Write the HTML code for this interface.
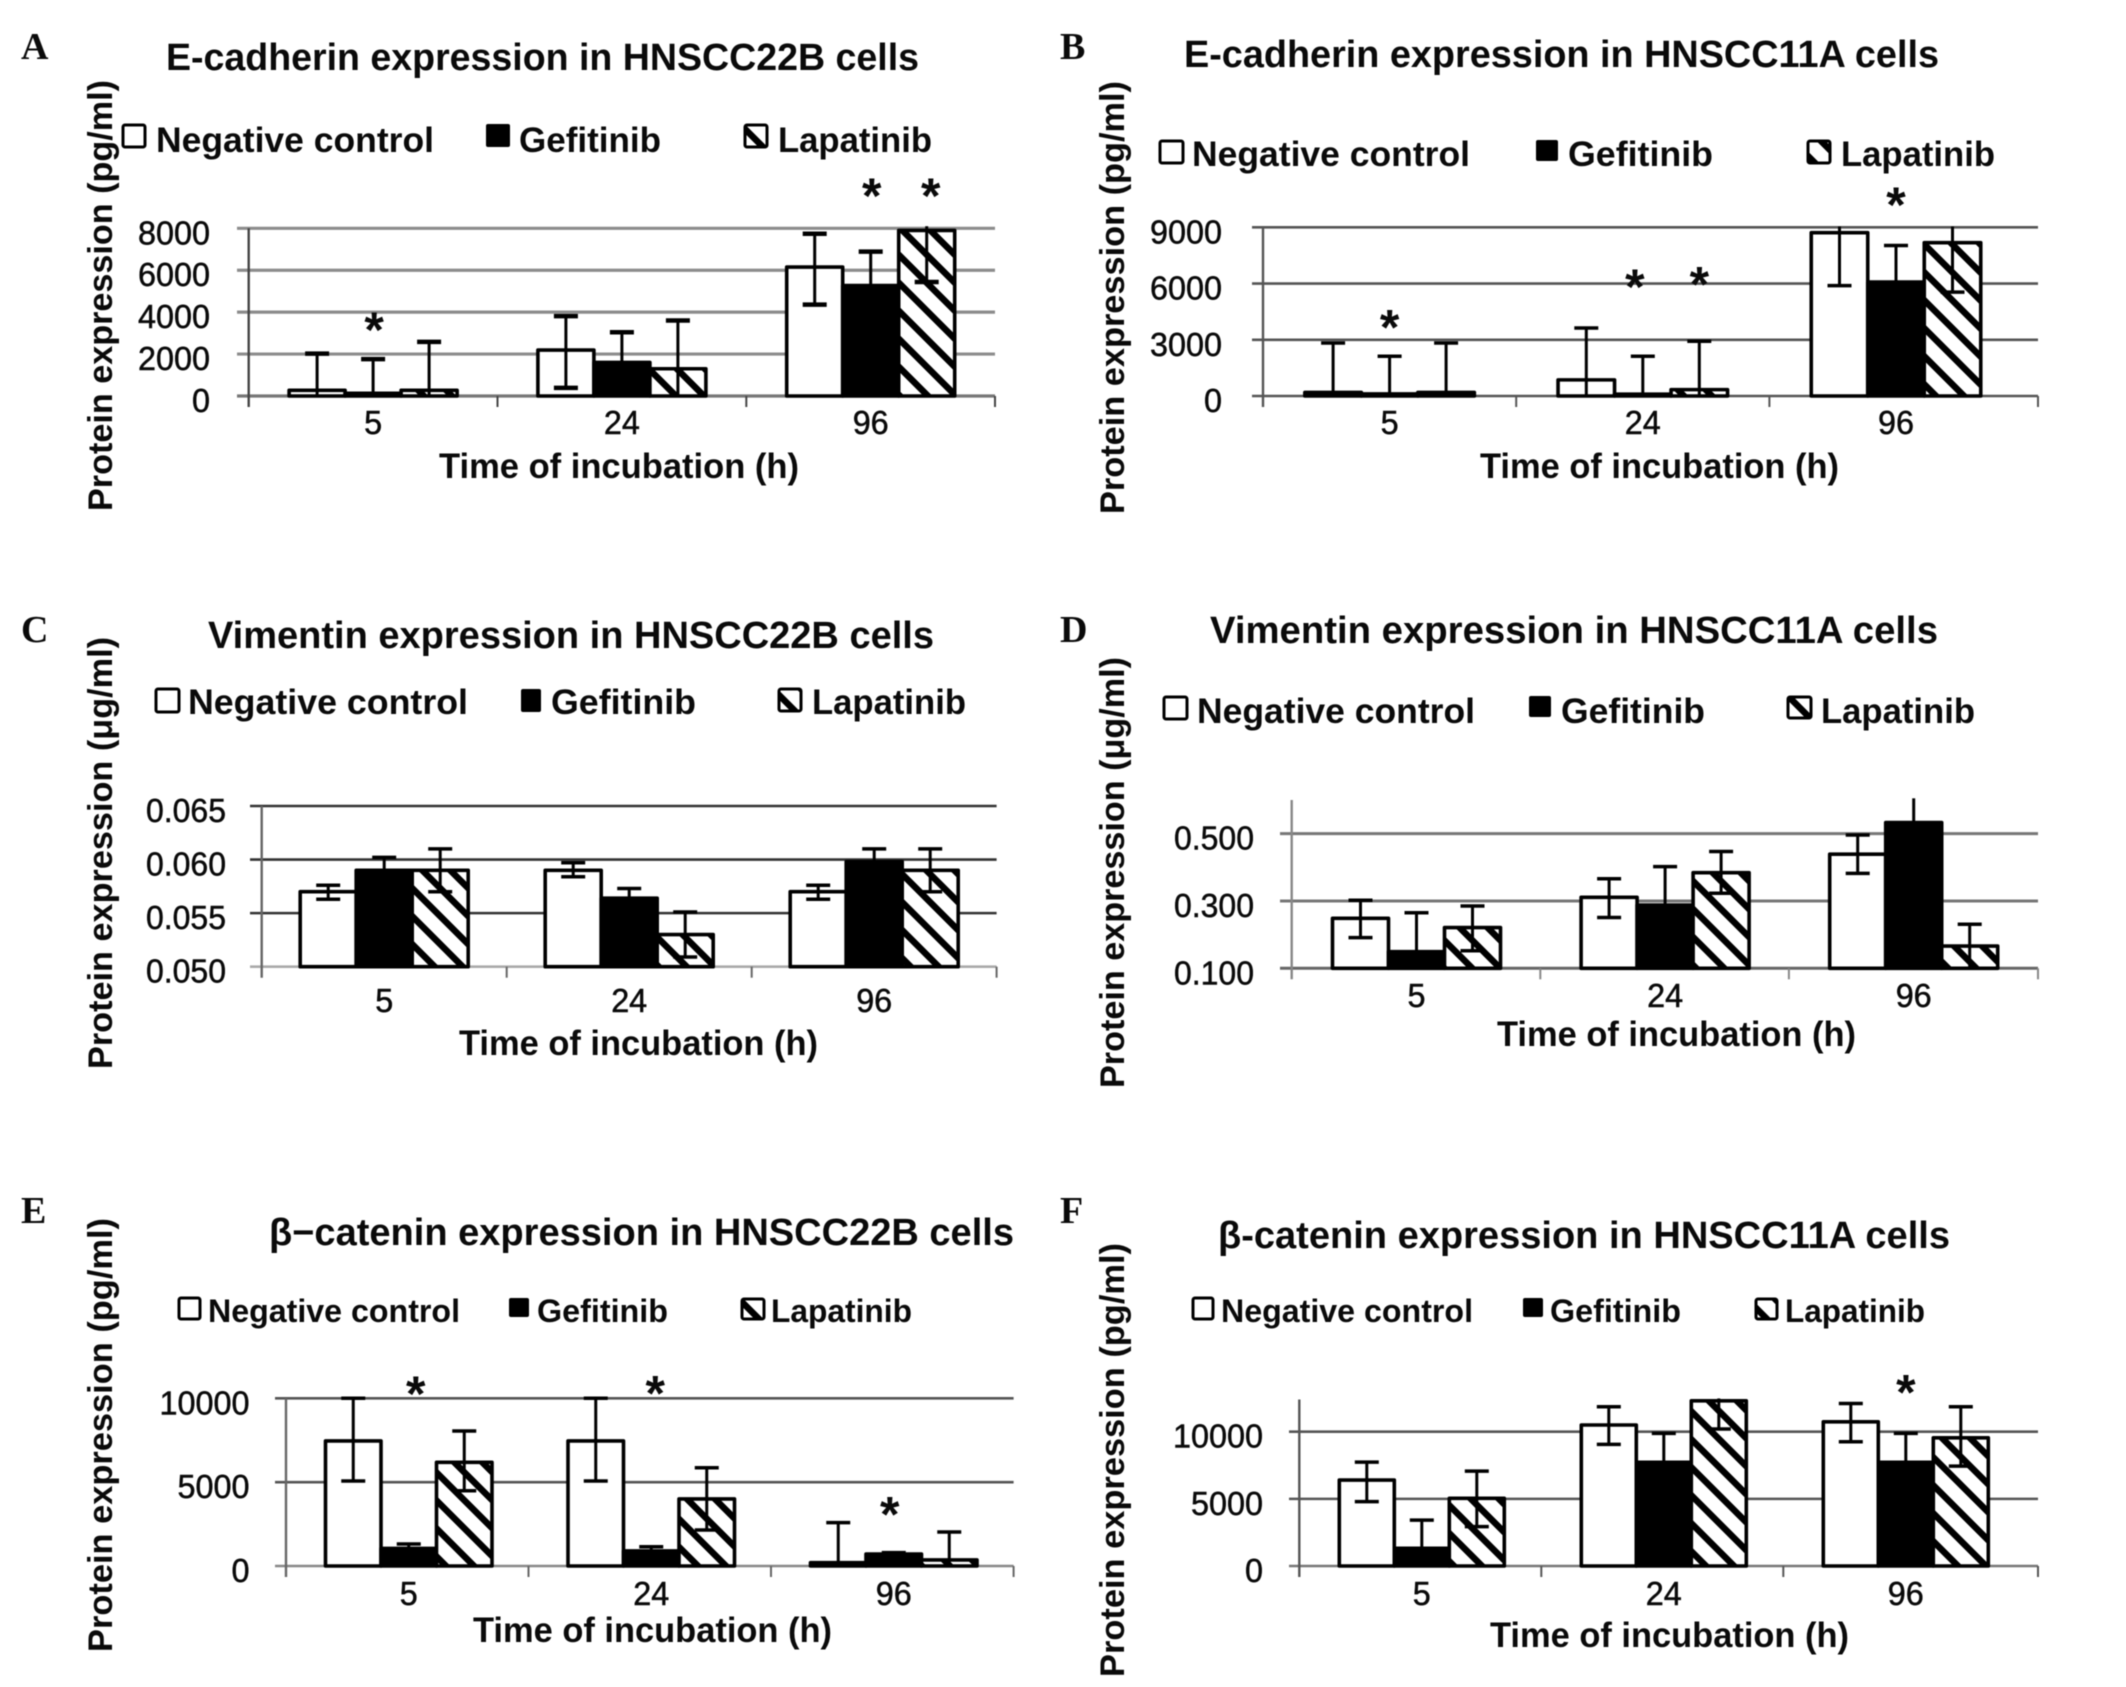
<!DOCTYPE html>
<html lang="en">
<head>
<meta charset="utf-8">
<title>EMT marker protein expression panels</title>
<style>
html,body{margin:0;padding:0;background:#fff;}
svg{display:block;filter:blur(0.5px);}
text{font-family:"Liberation Sans",sans-serif;fill:#0a0a0a;}
.letter{font-family:"Liberation Serif",serif;font-weight:bold;font-size:38px;}
.title{font-weight:bold;font-size:38px;}
.leg{font-weight:bold;font-size:35px;}
.leg2{font-weight:bold;font-size:32px;}
.xt{font-weight:bold;font-size:35px;}
.yt{font-weight:bold;font-size:34px;}
.tick{font-size:33px;stroke:#0a0a0a;stroke-width:.5px;}
.star{font-weight:bold;font-size:50px;text-anchor:middle;}
</style>
</head>
<body>
<svg id="figure" xmlns="http://www.w3.org/2000/svg" width="2126" height="1687" viewBox="0 0 2126 1687">
<defs>
<pattern id="hatch" patternUnits="userSpaceOnUse" width="28" height="28">
<rect width="28" height="28" fill="#fff"/>
<path d="M-7,-7 L35,35 M-7,21 L7,35 M21,-7 L35,7" stroke="#000" stroke-width="6.5" fill="none"/>
</pattern>
</defs>
<rect width="2126" height="1687" fill="#fff"/>

<g>
<text class="letter" x="21" y="59">A</text>
<text class="title" x="166" y="70" textLength="753" lengthAdjust="spacingAndGlyphs">E-cadherin expression in HNSCC22B cells</text>
<text class="yt" transform="translate(112,511) rotate(-90)" textLength="431" lengthAdjust="spacingAndGlyphs">Protein expression (pg/ml)</text>
<text class="xt" x="439" y="478" textLength="360" lengthAdjust="spacingAndGlyphs">Time of incubation (h)</text>
<rect x="123" y="125" width="22" height="22" rx="2" fill="#fff" stroke="#000" stroke-width="3"/>
<text class="leg" x="156" y="152" textLength="278" lengthAdjust="spacingAndGlyphs">Negative control</text>
<rect x="486" y="124" width="24" height="23" rx="2" fill="#000"/>
<text class="leg" x="519" y="152" textLength="142" lengthAdjust="spacingAndGlyphs">Gefitinib</text>
<rect x="745" y="125" width="22" height="22" rx="2" fill="url(#hatch)" stroke="#000" stroke-width="3"/>
<text class="leg" x="778" y="152" textLength="154" lengthAdjust="spacingAndGlyphs">Lapatinib</text>
</g>

<g>
<text class="letter" x="1060" y="59">B</text>
<text class="title" x="1184" y="67" textLength="755" lengthAdjust="spacingAndGlyphs">E-cadherin expression in HNSCC11A cells</text>
<text class="yt" transform="translate(1124,514) rotate(-90)" textLength="433" lengthAdjust="spacingAndGlyphs">Protein expression (pg/ml)</text>
<text class="xt" x="1480" y="478" textLength="359" lengthAdjust="spacingAndGlyphs">Time of incubation (h)</text>
<rect x="1160" y="141" width="23" height="22" rx="2" fill="#fff" stroke="#000" stroke-width="3"/>
<text class="leg" x="1192" y="166" textLength="278" lengthAdjust="spacingAndGlyphs">Negative control</text>
<rect x="1536" y="140" width="22" height="21" rx="2" fill="#000"/>
<text class="leg" x="1568" y="166" textLength="145" lengthAdjust="spacingAndGlyphs">Gefitinib</text>
<rect x="1808" y="141" width="22" height="22" rx="2" fill="url(#hatch)" stroke="#000" stroke-width="3"/>
<text class="leg" x="1841" y="166" textLength="154" lengthAdjust="spacingAndGlyphs">Lapatinib</text>
</g>

<g>
<text class="letter" x="21" y="642">C</text>
<text class="title" x="208" y="648" textLength="726" lengthAdjust="spacingAndGlyphs">Vimentin expression in HNSCC22B cells</text>
<text class="yt" transform="translate(112,1069) rotate(-90)" textLength="432" lengthAdjust="spacingAndGlyphs">Protein expression (μg/ml)</text>
<text class="xt" x="459" y="1055" textLength="359" lengthAdjust="spacingAndGlyphs">Time of incubation (h)</text>
<rect x="156" y="689" width="23" height="23" rx="2" fill="#fff" stroke="#000" stroke-width="3"/>
<text class="leg" x="188" y="714" textLength="280" lengthAdjust="spacingAndGlyphs">Negative control</text>
<rect x="521" y="689" width="20" height="23" rx="2" fill="#000"/>
<text class="leg" x="551" y="714" textLength="145" lengthAdjust="spacingAndGlyphs">Gefitinib</text>
<rect x="779" y="689" width="22" height="22" rx="2" fill="url(#hatch)" stroke="#000" stroke-width="3"/>
<text class="leg" x="812" y="714" textLength="154" lengthAdjust="spacingAndGlyphs">Lapatinib</text>
</g>

<g>
<text class="letter" x="1060" y="642">D</text>
<text class="title" x="1210" y="643" textLength="728" lengthAdjust="spacingAndGlyphs">Vimentin expression in HNSCC11A cells</text>
<text class="yt" transform="translate(1124,1088) rotate(-90)" textLength="431" lengthAdjust="spacingAndGlyphs">Protein expression (μg/ml)</text>
<text class="xt" x="1497" y="1046" textLength="359" lengthAdjust="spacingAndGlyphs">Time of incubation (h)</text>
<rect x="1164" y="697" width="23" height="22" rx="2" fill="#fff" stroke="#000" stroke-width="3"/>
<text class="leg" x="1197" y="723" textLength="278" lengthAdjust="spacingAndGlyphs">Negative control</text>
<rect x="1529" y="696" width="22" height="21" rx="2" fill="#000"/>
<text class="leg" x="1561" y="723" textLength="144" lengthAdjust="spacingAndGlyphs">Gefitinib</text>
<rect x="1788" y="697" width="23" height="21" rx="2" fill="url(#hatch)" stroke="#000" stroke-width="3"/>
<text class="leg" x="1821" y="723" textLength="154" lengthAdjust="spacingAndGlyphs">Lapatinib</text>
</g>

<g>
<text class="letter" x="21" y="1223">E</text>
<text class="title" x="269" y="1245" textLength="745" lengthAdjust="spacingAndGlyphs">β−catenin expression in HNSCC22B cells</text>
<text class="yt" transform="translate(112,1652) rotate(-90)" textLength="434" lengthAdjust="spacingAndGlyphs">Protein expression (pg/ml)</text>
<text class="xt" x="473" y="1642" textLength="359" lengthAdjust="spacingAndGlyphs">Time of incubation (h)</text>
<rect x="179" y="1298" width="21" height="21" rx="2" fill="#fff" stroke="#000" stroke-width="3"/>
<text class="leg2" x="208" y="1322" textLength="252" lengthAdjust="spacingAndGlyphs">Negative control</text>
<rect x="509" y="1298" width="20" height="19" rx="2" fill="#000"/>
<text class="leg2" x="537" y="1322" textLength="131" lengthAdjust="spacingAndGlyphs">Gefitinib</text>
<rect x="742" y="1299" width="22" height="20" rx="2" fill="url(#hatch)" stroke="#000" stroke-width="3"/>
<text class="leg2" x="771" y="1322" textLength="141" lengthAdjust="spacingAndGlyphs">Lapatinib</text>
</g>

<g>
<text class="letter" x="1060" y="1223">F</text>
<text class="title" x="1218" y="1248" textLength="732" lengthAdjust="spacingAndGlyphs">β-catenin expression in HNSCC11A cells</text>
<text class="yt" transform="translate(1124,1677) rotate(-90)" textLength="434" lengthAdjust="spacingAndGlyphs">Protein expression (pg/ml)</text>
<text class="xt" x="1490" y="1647" textLength="359" lengthAdjust="spacingAndGlyphs">Time of incubation (h)</text>
<rect x="1193" y="1298" width="20" height="21" rx="2" fill="#fff" stroke="#000" stroke-width="3"/>
<text class="leg2" x="1221" y="1322" textLength="252" lengthAdjust="spacingAndGlyphs">Negative control</text>
<rect x="1523" y="1298" width="20" height="19" rx="2" fill="#000"/>
<text class="leg2" x="1550" y="1322" textLength="131" lengthAdjust="spacingAndGlyphs">Gefitinib</text>
<rect x="1756" y="1299" width="21" height="20" rx="2" fill="url(#hatch)" stroke="#000" stroke-width="3"/>
<text class="leg2" x="1785" y="1322" textLength="140" lengthAdjust="spacingAndGlyphs">Lapatinib</text>
</g>
</svg>

<script>
const categories = ['5', '24', '96'];
const seriesNames = ['negative-control', 'gefitinib', 'lapatinib'];

// Panel A
const aTickValues = [0, 2000, 4000, 6000, 8000];
const aTickLabels = ['0', '2000', '4000', '6000', '8000'];
const aNegative = [270, 2190, 6150];
const aGefitinib = [130, 1600, 5270];
const aLapatinib = [270, 1300, 7900];
const aNegativeHigh = [2020, 3810, 7740];
const aGefitinibHigh = [1760, 3040, 6890];
const aLapatinibHigh = [2580, 3600, 8100];
const aNegativeLow = [0, 390, 4360];
const aGefitinibLow = [0, 160, 3650];
const aLapatinibLow = [0, 0, 5440];
const aStarGroup = [0, 2, 2];
const aStarSeries = [1, 1, 2];
const aStarValue = [3435, 9828, 9828];

// Panel B
const bTickValues = [0, 3000, 6000, 9000];
const bTickLabels = ['0', '3000', '6000', '9000'];
const bNegative = [190, 860, 8710];
const bGefitinib = [110, 100, 6080];
const bLapatinib = [190, 340, 8180];
const bNegativeHigh = [2830, 3630, 9040];
const bGefitinibHigh = [2120, 2120, 8030];
const bLapatinibHigh = [2830, 2920, 9040];
const bNegativeLow = [0, 0, 5890];
const bGefitinibLow = [0, 0, 4100];
const bLapatinibLow = [0, 0, 5540];
const bStarGroup = [0, 1, 1, 2];
const bStarSeries = [1, 1, 2, 1];
const bStarValue = [3980, 6135, 6263, 10510];

// Panel C
const cTickValues = [0.05, 0.055, 0.06, 0.065];
const cTickLabels = ['0.050', '0.055', '0.060', '0.065'];
const cNegative = [0.0570, 0.0590, 0.0570];
const cGefitinib = [0.0590, 0.0564, 0.0598];
const cLapatinib = [0.0590, 0.0530, 0.0590];
const cNegativeHigh = [0.0576, 0.0597, 0.0576];
const cGefitinibHigh = [0.0602, 0.0573, 0.0610];
const cLapatinibHigh = [0.0610, 0.0551, 0.0610];
const cNegativeLow = [0.0563, 0.0584, 0.0563];
const cGefitinibLow = [0.0578, 0.0555, 0.0590];
const cLapatinibLow = [0.0570, 0.0509, 0.0570];
const cStarGroup = [];
const cStarSeries = [];
const cStarValue = [];

// Panel D
const dTickValues = [0.1, 0.3, 0.5];
const dTickLabels = ['0.100', '0.300', '0.500'];
const dNegative = [0.2485, 0.311, 0.439];
const dGefitinib = [0.1495, 0.288, 0.533];
const dLapatinib = [0.221, 0.384, 0.166];
const dNegativeHigh = [0.302, 0.366, 0.496];
const dGefitinibHigh = [0.265, 0.402, 0.605];
const dLapatinibHigh = [0.285, 0.447, 0.231];
const dNegativeLow = [0.191, 0.251, 0.382];
const dGefitinibLow = [0.1, 0.2, 0.46];
const dLapatinibLow = [0.152, 0.323, 0.1];
const dStarGroup = [];
const dStarSeries = [];
const dStarValue = [];

// Panel E
const eTickValues = [0, 5000, 10000];
const eTickLabels = ['0', '5000', '10000'];
const eNegative = [7455, 7455, 200];
const eGefitinib = [1050, 900, 715];
const eLapatinib = [6180, 4000, 360];
const eNegativeHigh = [10000, 10000, 2585];
const eGefitinibHigh = [1310, 1150, 800];
const eLapatinibHigh = [8050, 5860, 2030];
const eNegativeLow = [5070, 5070, 0];
const eGefitinibLow = [800, 650, 600];
const eLapatinibLow = [4490, 2150, 0];
const eStarGroup = [0, 1, 2];
const eStarSeries = [1, 1, 1];
const eStarValue = [10600, 10650, 3440];

// Panel F
const fTickValues = [0, 5000, 10000];
const fTickLabels = ['0', '5000', '10000'];
const fNegative = [6400, 10500, 10740];
const fGefitinib = [1320, 7720, 7720];
const fLapatinib = [5040, 12300, 9550];
const fNegativeHigh = [7740, 11860, 12100];
const fGefitinibHigh = [3420, 9880, 9880];
const fLapatinibHigh = [7070, 12480, 11860];
const fNegativeLow = [4790, 9060, 9250];
const fGefitinibLow = [0, 5500, 5500];
const fLapatinibLow = [2930, 10200, 7440];
const fStarGroup = [2];
const fStarSeries = [1];
const fStarValue = [13350];

const panels = [
  {id:'a', x0:248.7, x1:995, catW:248.8, barW:56, groupDx:0, starDx:[1,1,4], top:228.3, base:396, yMin:0, yMax:8000, gridX:237, labelRight:210, catY:434, grid:'#8c8c8c', gridW:3.2, baseCol:'#777', axisCol:'#444', capW:4.5,
   ticks:aTickValues, labels:aTickLabels, vals:[aNegative,aGefitinib,aLapatinib], hi:[aNegativeHigh,aGefitinibHigh,aLapatinibHigh], lo:[aNegativeLow,aGefitinibLow,aLapatinibLow], sg:aStarGroup, ss:aStarSeries, sv:aStarValue},
  {id:'b', x0:1263, x1:2038, catW:253.2, barW:56.5, groupDx:0, starDx:[0,-8,0,0], top:227.3, base:396, yMin:0, yMax:9000, gridX:1252, labelRight:1222, catY:434, grid:'#555', gridW:2.6, baseCol:'#555', axisCol:'#555', capW:3.5,
   ticks:bTickValues, labels:bTickLabels, vals:[bNegative,bGefitinib,bLapatinib], hi:[bNegativeHigh,bGefitinibHigh,bLapatinibHigh], lo:[bNegativeLow,bGefitinibLow,bLapatinibLow], sg:bStarGroup, ss:bStarSeries, sv:bStarValue},
  {id:'c', x0:261.7, x1:996.6, catW:245, barW:56, groupDx:0, starDx:[], top:806, base:966.7, yMin:0.05, yMax:0.065, gridX:250, labelRight:226, catY:1012, grid:'#333', gridW:2.6, baseCol:'#aaa', axisCol:'#666', capW:3.5,
   ticks:cTickValues, labels:cTickLabels, vals:[cNegative,cGefitinib,cLapatinib], hi:[cNegativeHigh,cGefitinibHigh,cLapatinibHigh], lo:[cNegativeLow,cGefitinibLow,cLapatinibLow], sg:cStarGroup, ss:cStarSeries, sv:cStarValue},
  {id:'d', x0:1291.7, x1:2038, catW:248.6, barW:56, groupDx:0.5, starDx:[], top:800, base:968.3, yMin:0.1, yMax:0.6, gridX:1280, labelRight:1254, catY:1007, grid:'#777', gridW:3, baseCol:'#666', axisCol:'#888', capW:3.5,
   ticks:dTickValues, labels:dTickLabels, vals:[dNegative,dGefitinib,dLapatinib], hi:[dNegativeHigh,dGefitinibHigh,dLapatinibHigh], lo:[dNegativeLow,dGefitinibLow,dLapatinibLow], sg:dStarGroup, ss:dStarSeries, sv:dStarValue},
  {id:'e', x0:286, x1:1013.6, catW:242.5, barW:55.5, groupDx:1.5, starDx:[7,4,-4], top:1398.3, base:1566, yMin:0, yMax:10000, gridX:275, labelRight:249.5, catY:1605, grid:'#555', gridW:2.6, baseCol:'#888', axisCol:'#666', capW:3.5,
   ticks:eTickValues, labels:eTickLabels, vals:[eNegative,eGefitinib,eLapatinib], hi:[eNegativeHigh,eGefitinibHigh,eLapatinibHigh], lo:[eNegativeLow,eGefitinibLow,eLapatinibLow], sg:eStarGroup, ss:eStarSeries, sv:eStarValue},
  {id:'f', x0:1299.3, x1:2038, catW:242, barW:55, groupDx:1.5, starDx:[0], top:1399.5, base:1566, yMin:0, yMax:12400, gridX:1289, labelRight:1263, catY:1605, grid:'#555', gridW:2.6, baseCol:'#777', axisCol:'#555', capW:3.5,
   ticks:fTickValues, labels:fTickLabels, vals:[fNegative,fGefitinib,fLapatinib], hi:[fNegativeHigh,fGefitinibHigh,fLapatinibHigh], lo:[fNegativeLow,fGefitinibLow,fLapatinibLow], sg:fStarGroup, ss:fStarSeries, sv:fStarValue}
];

const NS = 'http://www.w3.org/2000/svg';
const fig = document.getElementById('figure');
const fills = ['#fff', '#000', 'url(#hatch)'];

function mk(tag, props, parent) {
  const n = document.createElementNS(NS, tag);
  for (const k in props) n.setAttribute(k, props[k]);
  parent.appendChild(n);
  return n;
}
function labelWidth(s) {
  let w = 0;
  for (const ch of s) w += ch === '.' ? 8 : 18;
  return w;
}

panels.forEach(function (p) {
  const yScale = function (v) { return p.base - (v - p.yMin) / (p.yMax - p.yMin) * (p.base - p.top); };
  const groupX = function (i) { return p.x0 + (i + 0.5) * p.catW + p.groupDx; };
  const barX = function (i, s) { return groupX(i) + (s - 1.5) * p.barW; };
  const clampY = function (v) { return yScale(Math.max(v, p.yMin)); };

  const g = mk('g', {}, fig);
  
  

  // gridlines and y tick labels
  p.ticks.forEach(function (v, i) {
    const isBase = v === p.yMin;
    const line = mk('line', {x1:p.gridX, x2:p.x1, y1:yScale(v), y2:yScale(v), stroke:isBase ? p.baseCol : p.grid, 'stroke-width':p.gridW}, g);
    
    
    const t = mk('text', {class:'tick', x:p.labelRight, y:yScale(v) + 16, 'text-anchor':'end', textLength:labelWidth(p.labels[i]), lengthAdjust:'spacingAndGlyphs'}, g);
    t.textContent = p.labels[i];
    
    
  });

  // axes
  const yAxis = mk('line', {x1:p.x0, x2:p.x0, y1:yScale(p.yMax), y2:p.base + 11, stroke:p.axisCol, 'stroke-width':2.4}, g);
  
  
  for (let i = 1; i <= categories.length; i++) {
    const tx = i === categories.length ? p.x1 : p.x0 + i * p.catW;
    const tk = mk('line', {x1:tx, x2:tx, y1:p.base, y2:p.base + 11, stroke:p.axisCol, 'stroke-width':2}, g);
    
    
  }

  // bars
  p.vals.forEach(function (series, s) {
    series.forEach(function (v, i) {
      const y = yScale(v);
      const r = mk('rect', {x:barX(i, s), y:y, width:p.barW, height:Math.max(p.base - y, 0), fill:fills[s], stroke:'#000', 'stroke-width':3.6, 'stroke-linejoin':'round'}, g);
      
      
    });
  });

  // category labels
  categories.forEach(function (c, i) {
    const t = mk('text', {class:'tick', x:groupX(i), y:p.catY, 'text-anchor':'middle', textLength:c.length * 18, lengthAdjust:'spacingAndGlyphs'}, g);
    t.textContent = c;
    
    
  });

  // error bars (caps are clipped away when the whisker exceeds the axis maximum)
  p.hi.forEach(function (series, s) {
    series.forEach(function (hv, i) {
      const cx = barX(i, s) + p.barW / 2;
      const yHi = yScale(hv);
      const yLo = clampY(p.lo[s][i]);
      const eb = mk('g', {stroke:'#000', 'stroke-linecap':'butt'}, g);
      
      
      mk('line', {x1:cx, x2:cx, y1:yHi, y2:yLo, 'stroke-width':3}, eb);
      if (hv <= p.yMax) mk('line', {x1:cx - 12, x2:cx + 12, y1:yHi, y2:yHi, 'stroke-width':p.capW}, eb);
      if (p.lo[s][i] > p.yMin) mk('line', {x1:cx - 12, x2:cx + 12, y1:yLo, y2:yLo, 'stroke-width':p.capW}, eb);
    });
  });

  // significance stars
  p.sv.forEach(function (v, k) {
    const sx = barX(p.sg[k], p.ss[k]) + p.barW / 2 + (p.starDx[k] || 0);
    const st = mk('text', {class:'star', x:sx, y:yScale(v) + 23}, g);
    st.textContent = '*';
    
    
  });
});
</script>
</body>
</html>
